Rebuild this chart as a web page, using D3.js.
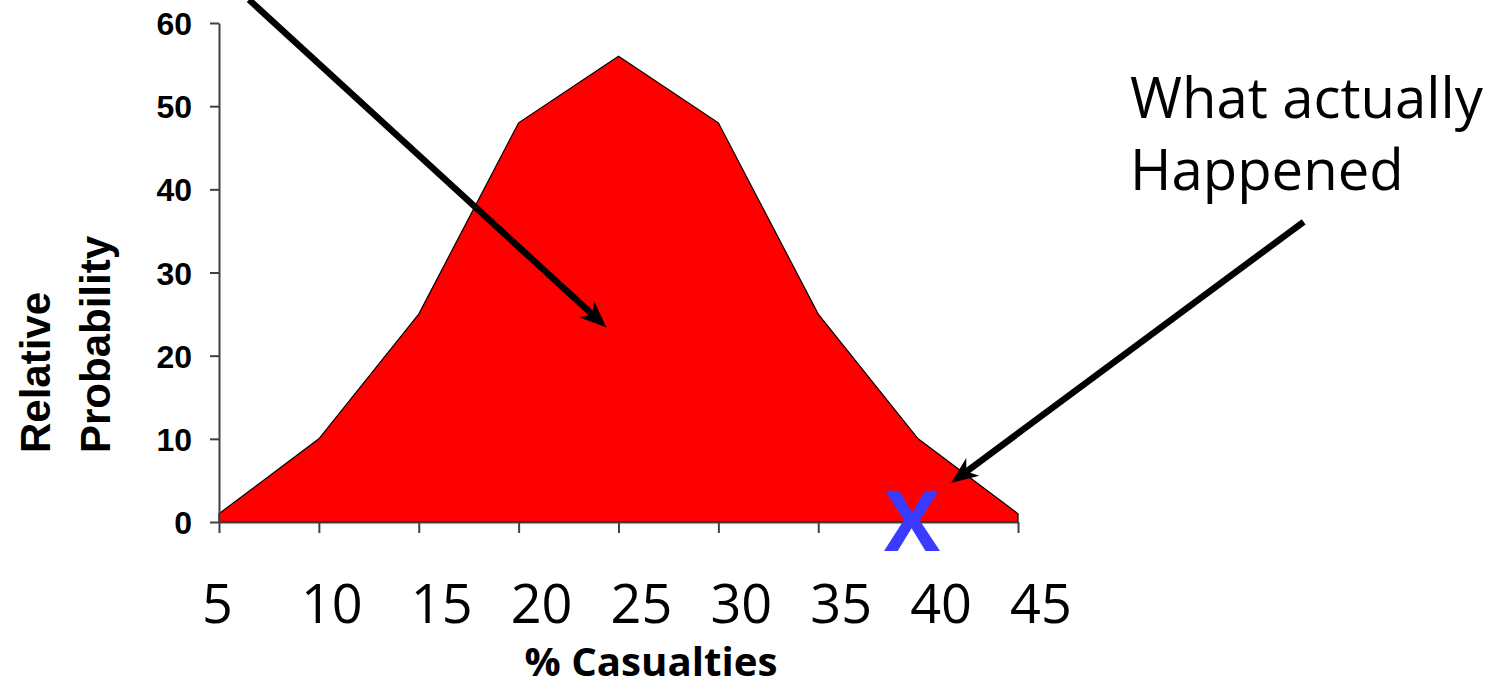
<!DOCTYPE html>
<html>
<head>
<meta charset="utf-8">
<script src="https://cdn.jsdelivr.net/npm/d3@7"></script>
<style>
  html, body { margin: 0; padding: 0; background: #ffffff; }
  svg { display: block; }
</style>
</head>
<body>
<svg id="chart" width="1492" height="688"></svg>
<script>
// ---- data ----
const casualtyPct = [5, 10, 15, 20, 25, 30, 35, 40, 45];
const relativeProb = [1, 10, 25, 48, 56, 48, 25, 10, 1];
const yTickValues = [0, 10, 20, 30, 40, 50, 60];
const xTickLabels = ["5", "10", "15", "20", "25", "30", "35", "40", "45"];
const actualValue = [39.7];
const annotationLines = ["What actually", "Happened"];
const yTitleLines = ["Relative", "Probability"];
const xTitle = "% Casualties";
// arrows in data coordinates: [fromX, fromY, toX, toY]
const arrowPredicted = [6.5, 62.8, 24.4, 23.4];
const arrowActual = [59.3, 36.1, 41.65, 4.7];

// ---- layout ----
const svg = d3.select("#chart");
const x = d3.scaleLinear().domain([5, 45]).range([219, 1018]);
const y = d3.scaleLinear().domain([0, 60]).range([522, 23]);
const axisColor = "#404040";

function fitWidth(sel, target) {
  const fs = parseFloat(sel.style("font-size"));
  const w = sel.node().getComputedTextLength();
  if (w > 0) sel.style("font-size", (fs * target / w).toFixed(2) + "px");
  return parseFloat(sel.style("font-size"));
}

// area
const pts = casualtyPct.map((c, i) => ({ c, p: relativeProb[i] }));
const area = d3.area().x(d => x(d.c)).y0(y(0)).y1(d => y(d.p));
svg.append("path")
  .datum(pts)
  .attr("d", area)
  .attr("fill", "#ff0000")
  .attr("stroke", "#000")
  .attr("stroke-width", 1.2)
  .attr("stroke-linejoin", "miter");

// y axis
const yAxis = d3.axisLeft(y).tickValues(yTickValues).tickSize(9).tickPadding(18).tickSizeOuter(0);
const gy = svg.append("g").attr("transform", `translate(${x(5)},0)`).call(yAxis);
gy.select(".domain").attr("stroke", axisColor).attr("stroke-width", 2);
gy.selectAll(".tick line").attr("stroke", axisColor).attr("stroke-width", 2);
gy.selectAll(".tick text")
  .attr("fill", "#000")
  .style("font-family", "'Liberation Sans', Arial, sans-serif")
  .style("font-weight", "bold")
  .style("font-size", "32px")
  .attr("dy", "0.36em");

// x axis (ticks only, labels drawn separately)
const xAxis = d3.axisBottom(x).tickValues(casualtyPct).tickSize(11).tickFormat("").tickSizeOuter(0);
const gx = svg.append("g").attr("transform", `translate(0,${y(0)})`).call(xAxis);
gx.select(".domain").attr("stroke", axisColor).attr("stroke-width", 2);
gx.selectAll(".tick line").attr("stroke", axisColor).attr("stroke-width", 2);

// x labels (large, Calibri-like)
svg.append("g").selectAll("text")
  .data(casualtyPct)
  .join("text")
  .attr("x", d => x(d) - (d === 5 ? 17 : d === 10 ? 18 : 8))
  .attr("y", 623)
  .attr("text-anchor", "start")
  .style("font-family", "'Open Sans', 'Noto Sans', sans-serif")
  .style("font-size", "54px")
  .attr("fill", "#000")
  .text((d, i) => xTickLabels[i]);

// x title
const xt = svg.append("text")
  .attr("x", 651)
  .attr("y", 676)
  .attr("text-anchor", "middle")
  .style("font-family", "'Open Sans', 'Noto Sans', sans-serif")
  .style("font-weight", "bold")
  .style("font-size", "40px")
  .attr("fill", "#000")
  .text(xTitle);
fitWidth(xt, 253);

// y title (two lines, rotated)
yTitleLines.forEach((t, i) => {
  svg.append("text")
    .attr("transform", `translate(${[50, 110][i]},453) rotate(-90)`)
    .attr("text-anchor", "start")
    .style("font-family", "'Liberation Sans', Arial, sans-serif")
    .style("font-weight", "bold")
    .style("font-size", "42px")
    .attr("fill", "#000")
    .text(t);
});

// actual value X
svg.append("g").selectAll("text")
  .data(actualValue)
  .join("text")
  .attr("x", d => x(d))
  .attr("y", 551)
  .attr("text-anchor", "middle")
  .style("font-family", "'Open Sans', 'Noto Sans', sans-serif")
  .style("font-weight", "bold")
  .style("font-size", "84px")
  .attr("fill", "#3b3bff")
  .text("X");

// annotation text
const annSel = svg.append("g").selectAll("text")
  .data(annotationLines)
  .join("text")
  .attr("x", 1130)
  .attr("y", (d, i) => [118, 190][i])
  .style("font-family", "'Open Sans', 'Noto Sans', sans-serif")
  .style("font-size", "60px")
  .attr("fill", "#000")
  .text(d => d);
const annFs = fitWidth(d3.select(annSel.nodes()[0]), 353);
annSel.style("font-size", annFs + "px");

// arrows
function drawArrow(a) {
  const x0 = x(a[0]), y0 = y(a[1]), x1 = x(a[2]), y1 = y(a[3]);
  const ang = Math.atan2(y1 - y0, x1 - x0);
  const len = 27, half = 11, notch = 19;
  const ux = Math.cos(ang), uy = Math.sin(ang);
  const px = -uy, py = ux;
  const bx = x1 - ux * len, by = y1 - uy * len;
  const nx = x1 - ux * notch, ny = y1 - uy * notch;
  svg.append("line")
    .attr("x1", x0).attr("y1", y0)
    .attr("x2", nx + ux * 2).attr("y2", ny + uy * 2)
    .attr("stroke", "#000").attr("stroke-width", 6.5);
  svg.append("path")
    .attr("d", `M${x1},${y1} L${bx + px * half},${by + py * half} L${nx},${ny} L${bx - px * half},${by - py * half} Z`)
    .attr("fill", "#000");
}
drawArrow(arrowPredicted);
drawArrow(arrowActual);
</script>
</body>
</html>
